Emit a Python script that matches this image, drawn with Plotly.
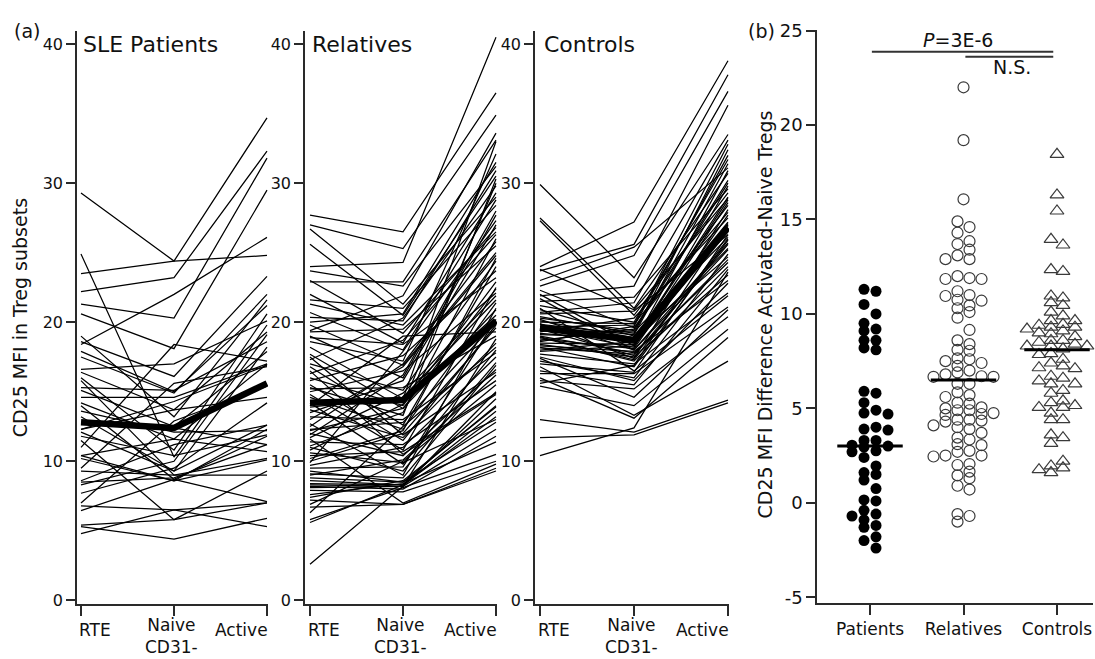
import numpy as np
import plotly.graph_objects as go

# ---------------- data: panel (a) ----------------
subsets = ["RTE", "Naive<br>CD31-", "Active"]

pat_rte = [29.3, 23.5, 22.2, 21.3, 20.6, 24.9, 18.4, 18.6, 17.9, 17.5, 16.6, 16.4, 15.3, 15.1, 14.6,
           14.2, 12.3, 12.1, 11.8, 12.8, 10.4, 10.2, 9.3, 8.6, 7.7, 7.0, 6.8, 6.45, 5.4, 4.8,
           5.3, 8.5, 10.4, 12.3, 13.2, 9.5, 11.0, 16.0, 19.0, 8.3, 13.6, 15.8, 14.0, 11.5]
pat_naive = [24.4, 24.4, 23.2, 20.3, 18.1, 10.3, 22.0, 16.1, 15.0, 14.9, 17.0, 13.7, 15.1, 12.5, 14.6,
             11.6, 13.7, 9.3, 10.4, 12.4, 11.6, 8.6, 9.0, 11.2, 9.5, 12.9, 6.5, 8.7, 5.8, 6.5,
             4.4, 8.8, 8.6, 14.3, 9.3, 15.6, 18.4, 10.8, 13.2, 10.0, 12.1, 9.0, 8.7, 5.8]
pat_active = [34.7, 24.8, 32.3, 31.8, 29.5, 19.8, 26.1, 23.3, 21.2, 22.0, 20.1, 19.3, 18.6, 17.9, 17.0,
              17.0, 14.6, 12.6, 11.9, 11.2, 10.7, 10.1, 9.0, 12.6, 14.2, 15.4, 7.0, 11.8, 7.0, 5.3,
              5.9, 11.2, 12.3, 16.9, 18.2, 16.8, 17.2, 20.6, 21.6, 19.1, 12.2, 10.2, 7.1, 9.3]

rel_rte = [27.7, 27.0, 26.7, 25.6, 24.0, 23.7, 22.9, 21.6, 21.3, 20.35, 19.4, 19.3, 18.6, 19.0, 17.3,
           17.0, 16.3, 16.0, 15.8, 15.3, 15.0, 14.6, 14.3, 14.0, 13.7, 13.5, 13.2, 12.3, 12.0, 11.7,
           11.4, 11.0, 10.4, 10.0, 9.3, 9.0, 8.6, 8.3, 8.1, 7.6, 7.2, 6.7, 5.8, 5.6, 2.6,
           22.0, 20.7, 19.8, 18.2, 17.7, 16.8, 15.5, 14.8, 14.2, 12.7, 12.5, 11.9, 11.1, 10.8, 10.2,
           9.7, 9.5, 9.1, 8.8, 8.4, 8.2, 7.9, 7.4, 6.9, 6.3, 23.0, 20.0, 18.9, 17.5, 16.5,
           15.2, 13.9, 13.0, 12.2, 11.6, 10.6, 9.9]
rel_naive = [26.5, 25.3, 21.3, 20.5, 24.3, 22.6, 22.9, 21.0, 19.8, 20.1, 21.9, 19.5, 17.2, 16.0, 20.3,
             15.1, 18.7, 14.0, 17.6, 13.3, 16.5, 12.3, 14.4, 19.0, 11.7, 15.8, 13.0, 12.8, 10.4, 14.9,
             11.2, 9.3, 10.7, 12.0, 8.5, 10.1, 8.3, 8.2, 8.2, 8.4, 6.9, 6.9, 8.1, 8.3, 8.2,
             18.5, 18.0, 16.9, 14.5, 13.8, 12.6, 11.5, 10.8, 9.8, 9.0, 17.0, 16.2, 13.5, 14.1, 12.2,
             11.0, 9.6, 8.8, 8.5, 8.3, 8.0, 7.8, 8.6, 10.0, 12.5, 19.2, 20.6, 18.4, 11.9, 10.5,
             15.3, 14.6, 16.8, 13.8, 7.0, 9.9, 17.9]
rel_active = [36.5, 34.9, 29.0, 30.5, 40.5, 31.2, 33.1, 28.4, 26.5, 30.9, 33.6, 25.5, 32.1, 27.7, 29.8,
              24.4, 26.3, 22.9, 23.7, 30.3, 22.1, 21.4, 20.5, 19.3, 18.5, 27.0, 17.8, 20.0, 16.6, 21.9,
              15.8, 17.1, 14.9, 19.6, 14.0, 16.2, 13.2, 12.3, 15.0, 11.4, 9.5, 9.3, 10.5, 13.6, 18.8,
              29.3, 28.8, 25.0, 33.0, 20.9, 24.0, 19.8, 22.5, 18.0, 21.0, 25.8, 28.0, 26.0, 30.0, 24.6,
              17.5, 20.2, 16.9, 12.8, 14.5, 11.8, 10.0, 13.9, 15.5, 18.2, 26.8, 31.5, 23.2, 16.4, 14.8,
              19.0, 21.6, 24.8, 22.4, 9.8, 13.0, 27.3]

con_rte = [29.9, 27.5, 27.3, 24.0, 23.7, 23.0, 22.6, 21.9, 22.3, 20.7, 20.4, 20.0, 19.8, 19.6, 19.5,
           19.3, 19.1, 18.9, 18.7, 18.5, 18.3, 18.0, 17.7, 17.0, 16.3, 15.8, 15.4, 13.0, 11.7, 10.4,
           21.2, 20.9, 20.2, 19.9, 19.7, 19.4, 19.2, 19.0, 18.8, 18.6, 18.4, 18.2, 17.9, 17.5, 17.2,
           16.8, 16.0, 15.6, 21.5, 22.0, 20.6, 19.85, 19.55, 18.95, 21.0, 20.3, 17.4, 16.5, 23.8, 20.1,
           19.65, 18.15, 21.7]
con_naive = [23.2, 21.0, 20.5, 27.2, 25.6, 25.4, 24.8, 22.6, 19.6, 21.4, 19.2, 19.9, 18.8, 18.2, 17.6,
             20.3, 18.9, 17.2, 19.5, 18.4, 17.9, 18.6, 17.0, 16.4, 16.3, 15.2, 14.0, 12.1, 11.9, 12.4,
             20.0, 19.0, 18.0, 17.4, 18.5, 19.3, 18.7, 17.8, 18.1, 19.7, 17.5, 16.8, 18.3, 15.8, 16.0,
             13.3, 13.1, 16.9, 21.8, 18.3, 20.8, 19.1, 18.55, 17.3, 16.5, 19.4, 14.6, 15.5, 20.9, 18.9,
             19.8, 17.7, 18.0]
con_active = [33.5, 30.7, 29.3, 38.8, 37.8, 31.1, 36.6, 35.6, 28.4, 33.1, 32.4, 27.9, 26.5, 29.8, 25.6,
              27.5, 24.7, 24.0, 30.2, 26.9, 23.0, 28.8, 22.1, 26.3, 21.1, 20.4, 19.5, 14.4, 14.2, 23.6,
              31.7, 27.2, 25.2, 28.1, 30.9, 26.1, 29.0, 24.3, 27.7, 32.0, 23.4, 25.9, 26.7, 22.8, 24.9,
              17.2, 18.9, 27.0, 29.6, 28.6, 26.3, 31.4, 25.3, 26.0, 21.9, 30.0, 20.9, 23.8, 28.9, 27.1,
              32.8, 24.5, 25.7]

pat_mean = [12.8, 12.4, 15.6]
rel_mean = [14.2, 14.4, 20.1]
con_mean = [19.6, 18.7, 26.8]

group_titles = ["SLE Patients", "Relatives", "Controls"]

# ---------------- data: panel (b) ----------------
groups_b = ["Patients", "Relatives", "Controls"]
diff_patients = [11.3, 11.2, 10.5, 10.0, 9.5, 9.2, 9.1, 8.6, 8.6, 8.2, 8.1, 5.9, 5.8, 5.3, 4.9,
                 4.75, 4.7, 4.0, 3.9, 3.85, 3.3, 3.3, 3.05, 3.0, 2.95, 2.75, 2.7, 2.4, 1.95, 1.6,
                 1.5, 1.2, 0.75, 0.15, 0.1, -0.4, -0.6, -0.7, -0.9, -1.2, -1.3, -1.8, -2.0, -2.4]
diff_relatives = [22.0, 19.2, 16.07, 14.9, 14.6, 14.3, 13.85, 13.7, 13.4, 13.1, 12.9, 12.9, 12.0, 11.9,
                  11.85, 11.85, 11.2, 11.0, 10.95, 10.75, 10.7, 10.45, 10.3, 10.1, 9.8, 9.15, 8.6, 8.4,
                  8.1, 8.05, 7.65, 7.6, 7.5, 7.4, 7.25, 7.0, 6.9, 6.8, 6.7, 6.67, 6.67, 6.3, 6.3, 5.85,
                  5.7, 5.6, 5.3, 5.25, 5.05, 5.0, 4.9, 4.9, 4.75, 4.7, 4.65, 4.4, 4.4, 4.35, 4.3, 4.1,
                  4.0, 3.9, 3.7, 3.45, 3.35, 3.1, 3.05, 2.75, 2.7, 2.5, 2.5, 2.45, 2.05, 2.0, 1.65,
                  1.45, 1.3, 0.9, 0.7, -0.6, -0.7, -1.0]
diff_controls = [18.45, 16.3, 15.45, 13.95, 13.65, 12.35, 12.25, 10.95, 10.85, 10.6, 10.45, 10.1, 9.9,
                 9.65, 9.65, 9.45, 9.4, 9.3, 9.3, 9.2, 9.1, 9.0, 8.95, 8.8, 8.6, 8.6, 8.5, 8.4, 8.3,
                 8.3, 8.3, 8.15, 7.9, 7.85, 7.6, 7.4, 7.25, 7.15, 7.1, 6.7, 6.6, 6.45, 6.3, 6.3, 5.95,
                 5.8, 5.4, 5.3, 5.15, 5.05, 5.05, 4.75, 4.4, 4.4, 3.6, 3.45, 3.15, 2.2, 1.95, 1.85,
                 1.75, 1.6]
group_medians = [3.0, 6.5, 8.1]

# ---------------- figure ----------------
W, H = 1095, 659
FONT = "DejaVu Sans"
INK = "#111111"
AXC = "#2a2a2a"


def px(x):
    return x / W


def py(y):
    return 1 - y / H


fig = go.Figure()

panels = [
    (pat_rte, pat_naive, pat_active, pat_mean),
    (rel_rte, rel_naive, rel_active, rel_mean),
    (con_rte, con_naive, con_active, con_mean),
]
xdomains_px = [(77, 268), (305, 497), (535, 729)]
xzero_px = [81, 310, 540]
xtwo_px = [267, 496, 728]

for k, (r, n, a, m) in enumerate(panels):
    xs, ys = [], []
    for i in range(len(r)):
        xs += [0, 1, 2, None]
        ys += [r[i], n[i], a[i], None]
    axn = "" if k == 0 else str(k + 1)
    fig.add_trace(go.Scatter(x=xs, y=ys, mode="lines", xaxis="x" + axn, yaxis="y" + axn,
                             line=dict(color="black", width=1.25), hoverinfo="skip"))
    fig.add_trace(go.Scatter(x=[0, 1, 2], y=m, mode="lines", xaxis="x" + axn, yaxis="y" + axn,
                             line=dict(color="black", width=6.5)))

# panel b: two-column dot plot layout (Igor-like)
PXX, PXY = 93.5, 19.35


def dotplot_offsets(vals, center, step=6.0, iso=11.0, dmin=6.5):
    vals = np.asarray(vals, dtype=float)
    ypx = vals * PXY
    order = np.argsort(-vals, kind="stable")
    placed = []
    out = np.zeros(len(vals))
    for i in order:
        yv = ypx[i]
        others = np.delete(ypx, i)
        if len(others) == 0 or np.min(np.abs(others - yv)) >= iso:
            xv = 0.0
        else:
            xv = None
            for ring in (1, 3, 5):
                best, bestd = None, -1.0
                for sgn in (-1, 1):
                    cx = sgn * ring * step
                    d = min([np.hypot(cx - p0, yv - p1) for p0, p1 in placed] + [1e9])
                    if d >= dmin and d > bestd:
                        best, bestd = cx, d
                if best is not None:
                    xv = best
                    break
            if xv is None:
                xv = -step
        placed.append((xv, yv))
        out[i] = center + xv / PXX
    return out


diffs = [diff_patients, diff_relatives, diff_controls]
styles = [
    dict(symbol="circle", size=11, color="black", line=dict(width=0)),
    dict(symbol="circle-open", size=11, color="#3a3a3a", line=dict(width=1.2)),
    dict(symbol="triangle-up-open", size=12, color="#3a3a3a", line=dict(width=1.2)),
]
for g, (vals, st) in enumerate(zip(diffs, styles)):
    fig.add_trace(go.Scatter(x=dotplot_offsets(vals, g), y=vals, mode="markers", xaxis="x4", yaxis="y4",
                             marker=st, cliponaxis=False))
for g, med in enumerate(group_medians):
    fig.add_trace(go.Scatter(x=[g - 0.35, g + 0.35], y=[med, med], mode="lines", xaxis="x4", yaxis="y4",
                             line=dict(color="black", width=3)))

layout = dict(
    width=W, height=H, margin=dict(l=0, r=0, t=0, b=0),
    paper_bgcolor="white", plot_bgcolor="white", showlegend=False,
    font=dict(family=FONT, color=INK),
)

ydom_a = [py(609), py(22)]
for k in range(3):
    axn = "" if k == 0 else str(k + 1)
    d0, d1 = xdomains_px[k]
    unit = (xtwo_px[k] - xzero_px[k]) / 2.0
    lo = -(xzero_px[k] - d0) / unit
    hi = 2 + (d1 - xtwo_px[k]) / unit
    layout["xaxis" + axn] = dict(
        domain=[px(d0), px(d1)], range=[lo, hi], anchor="y" + axn,
        tickvals=[0, 1, 2], showticklabels=False, ticks="outside", ticklen=10, tickwidth=1.5,
        tickcolor=AXC, showline=True, linecolor=AXC, linewidth=1.5, showgrid=False, zeroline=False,
    )
    layout["yaxis" + axn] = dict(
        domain=ydom_a, range=[-0.28, 40.91], anchor="x" + axn,
        tickvals=[0, 10, 20, 30, 40], ticks="outside", ticklen=9, tickwidth=1.5, tickcolor=AXC,
        showline=True, linecolor=AXC, linewidth=1.5, showgrid=False, zeroline=False,
        tickfont=dict(size=16, color=INK),
    )

ytv_b = [-5, 0, 5, 10, 15, 20, 25]
layout["xaxis4"] = dict(
    domain=[px(817), px(1093)], range=[-0.567, 2.385], anchor="y4",
    tickvals=[0, 1, 2], ticktext=groups_b, ticks="outside", ticklen=10, tickwidth=1.5, tickcolor=AXC,
    showline=True, linecolor=AXC, linewidth=1.5, showgrid=False, zeroline=False,
    tickfont=dict(size=17, color=INK),
)
layout["yaxis4"] = dict(
    domain=[py(608), py(20)], range=[-5.32, 25.06], anchor="x4",
    tickvals=ytv_b, ticktext=[str(v) for v in ytv_b], ticks="outside", ticklen=9, tickwidth=1.5,
    tickcolor=AXC, showline=True, linecolor=AXC, linewidth=1.5, showgrid=False, zeroline=False,
    tickfont=dict(size=18, color=INK),
)
fig.update_layout(**layout)

ann = []
ann.append(dict(text="(a)", x=px(27), y=py(22), xref="paper", yref="paper", showarrow=False,
                font=dict(size=19), xanchor="center", yanchor="middle"))
ann.append(dict(text="(b)", x=px(761), y=py(22), xref="paper", yref="paper", showarrow=False,
                font=dict(size=19), xanchor="center", yanchor="middle"))
title_left_px = [81, 310, 542]
for k, t in enumerate(group_titles):
    ann.append(dict(text=t, x=px(title_left_px[k]), y=py(35), xref="paper", yref="paper",
                    showarrow=False, font=dict(size=22), xanchor="left", yanchor="middle"))
for k in range(3):
    axn = "" if k == 0 else str(k + 1)
    ann.append(dict(text=subsets[0], x=0, xref="x" + axn, y=py(635), yref="paper", showarrow=False,
                    xanchor="left", xshift=-4, yanchor="middle", font=dict(size=17)))
    ann.append(dict(text=subsets[1], x=1, xref="x" + axn, y=py(642), yref="paper", showarrow=False,
                    xanchor="center", xshift=-3, yanchor="middle", font=dict(size=17)))
    ann.append(dict(text=subsets[2], x=2, xref="x" + axn, y=py(635), yref="paper", showarrow=False,
                    xanchor="right", xshift=3, yanchor="middle", font=dict(size=17)))
ann.append(dict(text="CD25 MFI in Treg subsets", x=px(20), y=py(316), xref="paper", yref="paper",
                textangle=-90, showarrow=False, font=dict(size=19), xanchor="center", yanchor="middle"))
ann.append(dict(text="CD25 MFI Difference Activated-Naive Tregs", x=px(765), y=py(312), xref="paper",
                yref="paper", textangle=-90, showarrow=False, font=dict(size=19),
                xanchor="center", yanchor="middle"))
ann.append(dict(text="<i>P</i>=3E-6", x=0.94, y=24.5, xref="x4", yref="y4", showarrow=False,
                font=dict(size=19), xanchor="center", yanchor="middle"))
ann.append(dict(text="N.S.", x=1.515, y=23.1, xref="x4", yref="y4", showarrow=False,
                font=dict(size=19), xanchor="center", yanchor="middle"))
fig.update_layout(annotations=ann)

fig.add_shape(type="line", xref="x4", yref="y4", x0=0.02, x1=1.96, y0=23.88, y1=23.88,
              line=dict(color="#333333", width=2))
fig.add_shape(type="line", xref="x4", yref="y4", x0=1.02, x1=1.96, y0=23.62, y1=23.62,
              line=dict(color="#333333", width=2))

fig.write_html("out.html")
